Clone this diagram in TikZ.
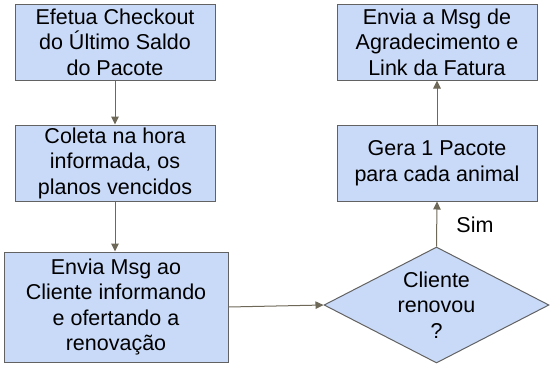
\documentclass[tikz,border=0pt]{standalone}
\usepackage{fontspec}
\setmainfont{Liberation Sans}
\usetikzlibrary{arrows.meta,shapes.geometric}
\definecolor{boxfill}{HTML}{C9DAF8}
\definecolor{boxline}{HTML}{626262}
\definecolor{arrowcol}{HTML}{6E6858}
\tikzset{
  x=1pt,y=-1pt,
  procbox/.style={draw=boxline,fill=boxfill,line width=1pt,rectangle,inner sep=0pt,
    align=center,font=\fontsize{21.5}{25.5}\selectfont},
  decbox/.style={draw=boxline,fill=boxfill,line width=1pt,diamond,inner sep=0pt,
    aspect=1.94,align=center,font=\fontsize{21.5}{25.5}\selectfont},
  conn/.style={draw=arrowcol,line width=1pt,-{Triangle[length=8pt,width=7.5pt]}},
}
\begin{document}
\begin{tikzpicture}
\useasboundingbox (0,0) rectangle (550,365);
\node[procbox,minimum width=200pt,minimum height=76pt] (b1) at (115,42)
  {Efetua Checkout\\do Último Saldo\\do Pacote};
\node[procbox,minimum width=200pt,minimum height=76pt] (b2) at (115,163)
  {Coleta na hora\\informada, os\\planos vencidos};
\node[procbox,minimum width=224pt,minimum height=110pt] (b3) at (116,307)
  {Envia Msg ao\\Cliente informando\\e ofertando a\\renovação};
\node[procbox,minimum width=200pt,minimum height=76pt] (b4) at (437,42)
  {Envia a Msg de\\Agradecimento e\\Link da Fatura};
\node[procbox,minimum width=200pt,minimum height=76pt] (b5) at (437,163)
  {Gera 1 Pacote\\para cada animal};
\node[decbox,minimum width=225pt,minimum height=116pt] (d) at (436.5,305)
  {Cliente\\renovou\\?};
\draw[conn] (b1.south) -- (b2.north);
\draw[conn] (b2.south) -- (b3.north -| b2.south);
\draw[conn] (b3.east) -- (d.west);
\draw[conn] (d.north) -- (b5.south);
\draw[conn] (b5.north) -- (b4.south);
\node[font=\fontsize{21.5}{25.5}\selectfont] (sim) at (475,225) {Sim};
\end{tikzpicture}
\end{document}
